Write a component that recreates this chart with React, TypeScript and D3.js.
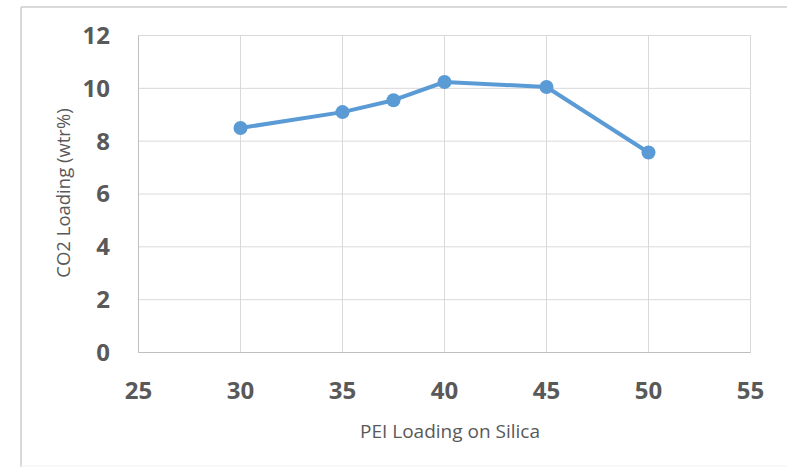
import React from "react";
import * as d3 from "d3";

const xValues = [30, 35, 37.5, 40, 45, 50];
const yValues = [8.5, 9.1, 9.55, 10.24, 10.05, 7.57];
const xTicks = [25, 30, 35, 40, 45, 50, 55];
const yTicks = [0, 2, 4, 6, 8, 10, 12];
const xTitle = "PEI Loading on Silica";
const yTitle = "CO2 Loading (wtr%)";

export default function App() {
  const W = 787, H = 467;
  const x = d3.scaleLinear().domain([25, 55]).range([138.5, 750.5]);
  const y = d3.scaleLinear().domain([0, 12]).range([352.5, 35.5]);
  const line = d3.line<number>().x((d, i) => x(xValues[i])).y((d) => y(d));
  const font = "'Open Sans', sans-serif";
  const grid = "#d9d9d9";
  const blue = "#5b9bd5";
  return (
    <svg width={W} height={H} style={{ position: "absolute", left: 0, top: 0 }}>
      <rect x={0} y={0} width={W} height={H} fill="#fff" />
      <line x1={21} x2={W} y1={7} y2={7} stroke={grid} strokeWidth={2} />
      <line x1={21} x2={21} y1={7} y2={H} stroke={grid} strokeWidth={2} />
      <line x1={21} x2={W} y1={466} y2={466} stroke="#f2f2f2" strokeWidth={1} />
      {yTicks.map((t) => (
        <line key={"gy" + t} x1={x(25)} x2={x(55)} y1={y(t)} y2={y(t)} stroke={grid} strokeWidth={1} />
      ))}
      {xTicks.map((t) => (
        <line key={"gx" + t} x1={x(t)} x2={x(t)} y1={y(0)} y2={y(12)} stroke={grid} strokeWidth={1} />
      ))}
      <line x1={x(25)} x2={x(55)} y1={y(0)} y2={y(0)} stroke="#bfbfbf" strokeWidth={1} />
      <line x1={x(25)} x2={x(25)} y1={y(0)} y2={y(12)} stroke="#bfbfbf" strokeWidth={1} />
      {yTicks.map((t) => (
        <text key={"ty" + t} x={110} y={y(t)} dy="0.35em" textAnchor="end" fontFamily={font} fontWeight={700} fontSize={24} fill="#595959">
          {t}
        </text>
      ))}
      {xTicks.map((t) => (
        <text key={"tx" + t} x={x(t)} y={391} dy="0.35em" textAnchor="middle" fontFamily={font} fontWeight={700} fontSize={24} fill="#595959">
          {t}
        </text>
      ))}
      <text x={450} y={431} dy="0.35em" textAnchor="middle" fontFamily={font} fontSize={19} fill="#595959">
        {xTitle}
      </text>
      <text transform="translate(64,193) rotate(-90)" dy="0.35em" textAnchor="middle" fontFamily={font} fontSize={18.5} fill="#595959">
        {yTitle}
      </text>
      <path d={line(yValues) || ""} fill="none" stroke={blue} strokeWidth={4} strokeLinejoin="round" />
      {yValues.map((v, i) => (
        <circle key={"p" + i} cx={x(xValues[i])} cy={y(v)} r={7} fill={blue} />
      ))}
    </svg>
  );
}
